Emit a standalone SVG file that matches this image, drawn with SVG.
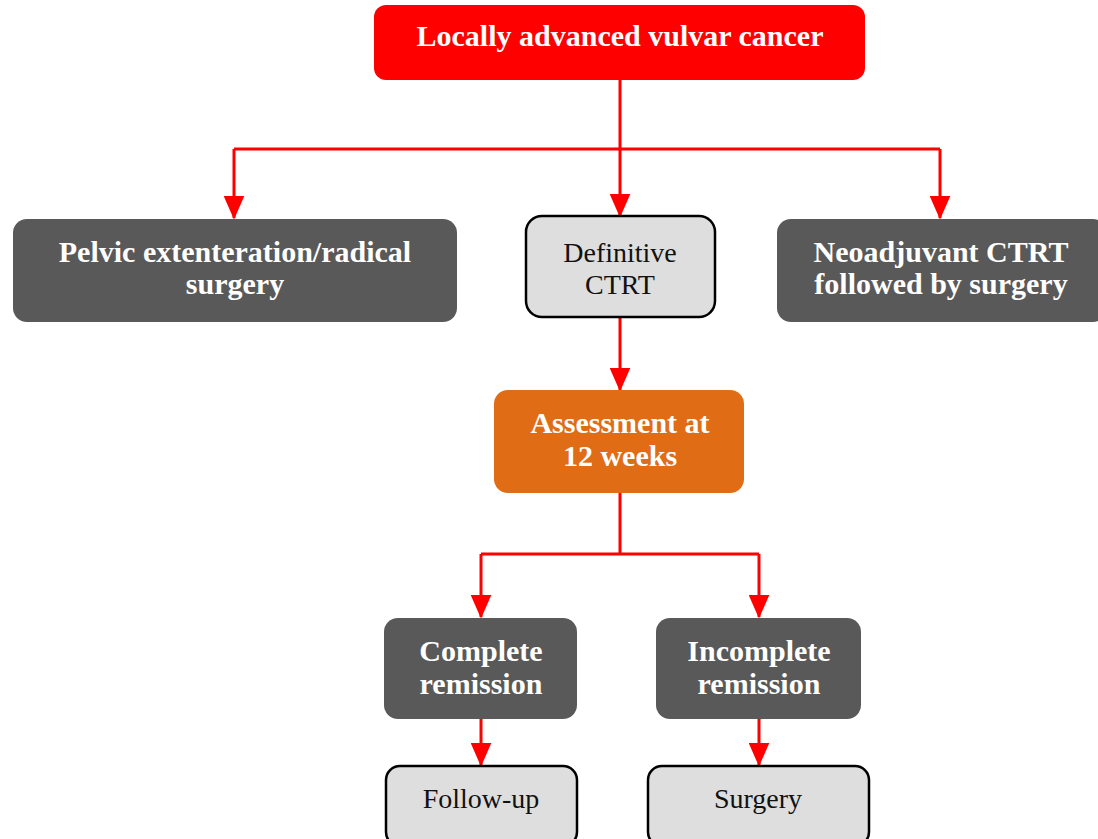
<svg xmlns="http://www.w3.org/2000/svg" width="1098" height="839" viewBox="0 0 1098 839">
<defs>
<marker id="ah" markerWidth="8" markerHeight="7" refX="7.5" refY="3.5" orient="auto" markerUnits="strokeWidth">
<path d="M0,0 L8,3.5 L0,7 Z" fill="#ff0000"/>
</marker>
<style>
.red{fill:#ff0000}
.dark{fill:#595959}
.light{fill:#dedede;stroke:#000;stroke-width:2.5}
.orange{fill:#e06d15}
.tb{font-family:"Liberation Serif","Times New Roman",serif;font-weight:bold;font-size:30px;fill:#fff;text-anchor:middle}
.tn{font-family:"Liberation Serif","Times New Roman",serif;font-size:28px;fill:#111;text-anchor:middle}
.c{fill:none;stroke:#ff0000;stroke-width:3}
.ca{fill:none;stroke:#ff0000;stroke-width:3;marker-end:url(#ah)}
</style>
</defs>
<rect width="1098" height="839" fill="#fff"/>
<g id="connectors">
<path class="c" d="M620,80 V149 M234,149 H940"/>
<path class="ca" d="M234,149 V218"/>
<path class="ca" d="M620,149 V216"/>
<path class="ca" d="M940,149 V218"/>
<path class="ca" d="M620,317 V390"/>
<path class="c" d="M620,493 V554 M481,554 H759"/>
<path class="ca" d="M481,554 V617"/>
<path class="ca" d="M759,554 V617"/>
<path class="ca" d="M481,719 V765"/>
<path class="ca" d="M759,719 V765"/>
</g>
<g id="n_top">
<rect class="red" x="374" y="5" width="491" height="75" rx="12"/>
<text class="tb" x="620" y="46">Locally advanced vulvar cancer</text>
</g>
<g id="n_pelvic">
<rect class="dark" x="13" y="219" width="444" height="103" rx="14"/>
<text class="tb" x="235" y="262">Pelvic extenteration/radical</text>
<text class="tb" x="235" y="294">surgery</text>
</g>
<g id="n_definitive">
<rect class="light" x="526" y="216" width="189" height="101" rx="16"/>
<text class="tn" x="620" y="262">Definitive</text>
<text class="tn" x="620" y="294">CTRT</text>
</g>
<g id="n_neo">
<rect class="dark" x="777" y="219" width="330" height="103" rx="14"/>
<text class="tb" x="941" y="262">Neoadjuvant CTRT</text>
<text class="tb" x="941" y="294">followed by surgery</text>
</g>
<g id="n_assess">
<rect class="orange" x="494" y="390" width="250" height="103" rx="14"/>
<text class="tb" x="620" y="433">Assessment at</text>
<text class="tb" x="620" y="466">12 weeks</text>
</g>
<g id="n_complete">
<rect class="dark" x="384" y="618" width="193" height="101" rx="14"/>
<text class="tb" x="481" y="661">Complete</text>
<text class="tb" x="481" y="694">remission</text>
</g>
<g id="n_incomplete">
<rect class="dark" x="656" y="618" width="205" height="101" rx="14"/>
<text class="tb" x="759" y="661">Incomplete</text>
<text class="tb" x="759" y="694">remission</text>
</g>
<g id="n_follow">
<rect class="light" x="386" y="766" width="191" height="80" rx="14"/>
<text class="tn" x="481" y="808">Follow-up</text>
</g>
<g id="n_surgery">
<rect class="light" x="648" y="766" width="221" height="80" rx="14"/>
<text class="tn" x="758" y="808">Surgery</text>
</g>
</svg>
